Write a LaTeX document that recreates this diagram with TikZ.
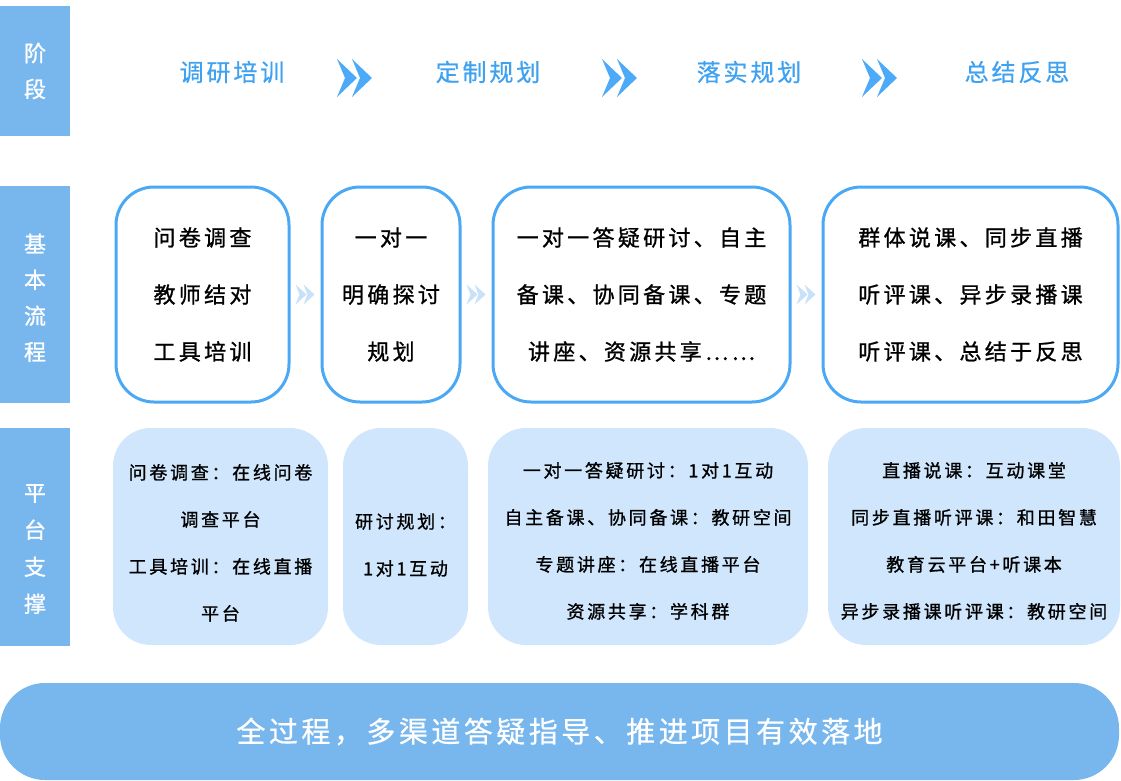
\documentclass[tikz,border=0pt]{standalone}
\usepackage{fontspec}
\setmainfont[FakeBold=1]{Noto Sans CJK SC}
\newfontfamily\cjkbody[LetterSpace=15,FakeBold=1]{Noto Sans CJK SC}
\newfontfamily\cjkhead[LetterSpace=12,FakeBold=0.6]{Noto Sans CJK SC}
\usetikzlibrary{calc}

\definecolor{sideblue}{HTML}{78B7EE}
\definecolor{lineblue}{HTML}{4BA8F5}
\definecolor{titleblue}{HTML}{3FA2F1}
\definecolor{arrowblue}{HTML}{4DAAF8}
\definecolor{fadeblue}{HTML}{C7E1F8}
\definecolor{paleblue}{HTML}{CFE6FC}

\begin{document}
\begin{tikzpicture}
  [
    x = 1pt, y = -1pt,
    side/.style = {fill = sideblue, text = white, inner sep = 0pt, minimum width = 70pt,
        align = center, font = \fontsize{22}{36}\selectfont},
    stage/.style = {text = titleblue, inner sep = 0pt, font = \cjkhead\fontsize{24}{28}\selectfont},
    flow/.style = {draw = lineblue, line width = 3pt, rounded corners = 38pt, inner sep = 0pt,
        minimum height = 215pt, align = center, font = \cjkbody\fontsize{22}{57}\selectfont},
    tool/.style = {fill = paleblue, rounded corners = 38pt, inner sep = 0pt,
        minimum height = 217pt, align = center, font = \cjkbody\fontsize{18}{47}\selectfont},
  ]
  \useasboundingbox (0,0) rectangle (1121,781);

  \node [side, minimum height = 130pt] (l1) at (35,71) {阶\\段};
  \node [side, minimum height = 217pt] (l2) at (35,294.5) {\rule{0pt}{25pt}基\\本\\流\\程};
  \node [side, minimum height = 218pt, font = \fontsize{22}{37}\selectfont] (l3) at (35,537)
  {\rule{0pt}{41pt}平\\台\\支\\撑};

  \node [stage] (t1) at (232,72) {调研培训};
  \node [stage] (t2) at (488,72) {定制规划};
  \node [stage] (t3) at (749,72) {落实规划};
  \node [stage] (t4) at (1017,72) {总结反思};

  \foreach \cx in {354,619,879}{
      \foreach \dx in {0,15} {
          \fill [arrowblue] (\cx-17+\dx,59) -- ++(20,19) -- ++(-20,19) -- ++(8,-19) -- cycle;
        }
    }

  \node [flow, minimum width = 173pt] (p1) at (202.5,294.5) {问卷调查\\教师结对\\工具培训};
  \node [flow, minimum width = 138pt] (p2) at (391,294.5) {一对一\\明确探讨\\规划};
  \node [flow, minimum width = 297pt] (p3) at (641.5,294.5)
  {一对一答疑研讨、自主\\备课、协同备课、专题\\讲座、资源共享……};
  \node [flow, minimum width = 295pt] (p4) at (970.5,294.5)
  {群体说课、同步直播\\听评课、异步录播课\\听评课、总结于反思};

  \foreach \a/\b in {p1/p2,p2/p3,p3/p4}{
      \foreach \dx in {-10,-2} {
          \fill [fadeblue, shift = {($(\a.east)!0.5!(\b.west)$)}]
          (\dx,-10) -- ++(11,10) -- ++(-11,10) -- ++(4,-10) -- cycle;
        }
    }

  \node [tool, minimum width = 215pt] (s1) at (220.5,536.5)
  {\rule{0pt}{28pt}问卷调查：在线问卷\\调查平台\\工具培训：在线直播\\平台};
  \node [tool, minimum width = 125pt] (s2) at (405.5,536.5) {\rule{0pt}{32pt}研讨规划：\\1对1互动};
  \node [tool, minimum width = 320pt] (s3) at (648,536.5)
  {\rule{0pt}{24pt}一对一答疑研讨：1对1互动\\自主备课、协同备课：教研空间\\专题讲座：在线直播平台\\资源共享：学科群};
  \node [tool, minimum width = 292pt] (s4) at (974,536.5)
  {\rule{0pt}{24pt}直播说课：互动课堂\\同步直播听评课：和田智慧\\教育云平台+听课本\\异步录播课听评课：教研空间};

  \node [fill = sideblue, text = white, rounded corners = 45pt, inner sep = 0pt,
    minimum width = 1119pt, minimum height = 97pt, font = \cjkhead\fontsize{29}{34}\selectfont]
  (bar) at (559.5,731.5) {全过程，多渠道答疑指导、推进项目有效落地};

\end{tikzpicture}
\end{document}
